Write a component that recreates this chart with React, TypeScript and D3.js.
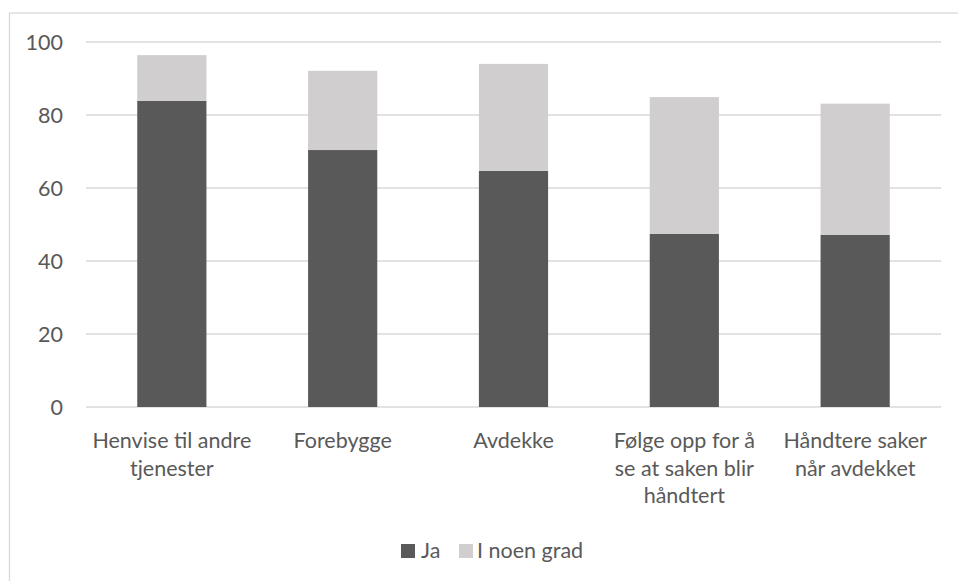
import React from "react";
import * as d3 from "d3";

const categories: string[][] = [
  ["Henvise til andre", "tjenester"],
  ["Forebygge"],
  ["Avdekke"],
  ["Følge opp for å", "se at saken blir", "håndtert"],
  ["Håndtere saker", "når avdekket"],
];
const categoryKeys = ["Henvise", "Forebygge", "Avdekke", "Følge", "Håndtere"];
const jaValues = [83.9, 70.4, 64.7, 47.4, 47.2];
const noenGradValues = [12.5, 21.7, 29.3, 37.5, 35.9];
const seriesNames = ["Ja", "I noen grad"];
const yTicks = [0, 20, 40, 60, 80, 100];

const W = 958;
const H = 581;
const FONT = "Lato, 'Open Sans', sans-serif";
const FS = 21.5;

export default function App() {
  const left = 86, right = 941, top = 42, bottom = 407;
  const x = d3.scaleBand<string>().domain(categoryKeys).range([left, right]).paddingInner(0.595).paddingOuter(0.3);
  const y = d3.scaleLinear().domain([0, 100]).range([bottom, top]);
  const colors = ["#595959", "#d0cece"];
  const data = categoryKeys.map((k, i) => ({ key: k, ja: jaValues[i], noen: noenGradValues[i] }));
  const stack = d3.stack<any>().keys(["ja", "noen"])(data);

  return (
    <svg width={W} height={H} style={{ position: "absolute", left: 0, top: 0, background: "#fff" }}>
      <rect x={9.5} y={13} width={970} height={600} fill="#fff" stroke="#d9d9d9" strokeWidth={1.3} />
      {yTicks.map((t) => (
        <g key={t}>
          <line x1={left} x2={right} y1={y(t)} y2={y(t)} stroke="#d9d9d9" strokeWidth={1.3} />
          <text x={63} y={y(t)} dy="0.36em" textAnchor="end" fontSize={FS} fill="#595959" fontFamily={FONT}>{t}</text>
        </g>
      ))}
      {stack.map((s, si) => (
        <g key={si} fill={colors[si]}>
          {s.map((d, i) => (
            <rect key={i} x={x(categoryKeys[i])} width={x.bandwidth()} y={y(d[1])} height={y(d[0]) - y(d[1])} />
          ))}
        </g>
      ))}
      {categories.map((lines, i) => (
        <text key={i} textAnchor="middle" fontSize={FS} fill="#595959" fontFamily={FONT}>
          {lines.map((l, j) => (
            <tspan key={j} x={(x(categoryKeys[i]) as number) + x.bandwidth() / 2} y={448 + j * 27.5}>{l}</tspan>
          ))}
        </text>
      ))}
      <g fontFamily={FONT} fontSize={FS} fill="#595959">
        <rect x={401} y={544} width={14} height={14} fill={colors[0]} />
        <text x={421} y={558}>{seriesNames[0]}</text>
        <rect x={459} y={544} width={14} height={14} fill={colors[1]} />
        <text x={477} y={558}>{seriesNames[1]}</text>
      </g>
    </svg>
  );
}
